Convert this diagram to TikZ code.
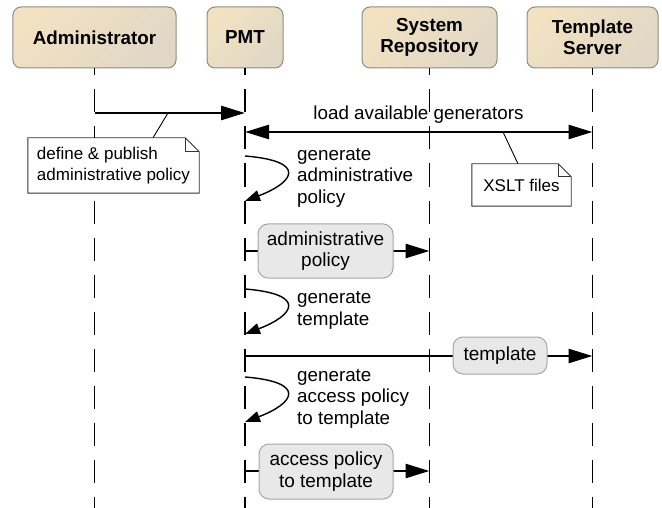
\documentclass[tikz,border=0pt]{standalone}
\usepackage{fontspec}
\setmainfont{Liberation Sans}
\usetikzlibrary{arrows.meta}

\definecolor{hdrtop}{HTML}{F2E2C2}
\definecolor{hdrbot}{HTML}{E0D7C6}
\definecolor{hdrline}{HTML}{8F8B82}
\definecolor{boxfill}{HTML}{E8E8E8}
\definecolor{boxline}{HTML}{A6A6A6}
\definecolor{noteline}{HTML}{333333}

\begin{document}
\begin{tikzpicture}[x=1bp,y=-1bp,
  actor/.style={draw=hdrline, line width=1bp, rounded corners=8bp,
    top color=hdrtop, bottom color=hdrbot, shading angle=45,
    minimum height=61bp, inner sep=0pt, align=center,
    font=\fontsize{18.8bp}{21.5bp}\selectfont\bfseries},
  lifeline/.style={line width=1.6bp, dash pattern=on 23bp off 14bp, dash phase=16bp},
  msg/.style={line width=2.6bp, -{Triangle[length=24bp,width=14bp]}},
  dblmsg/.style={line width=2.6bp, {Triangle[length=24bp,width=14bp]}-{Triangle[length=24bp,width=14bp]}},
  selfmsg/.style={line width=1.4bp, -{Triangle[length=15bp,width=11bp]}},
  lbl/.style={inner sep=0pt, align=left, font=\fontsize{18.8bp}{21.5bp}\selectfont},
  mbox/.style={draw=boxline, fill=boxfill, line width=1bp, rounded corners=10bp,
    inner sep=0pt, align=center, font=\fontsize{19bp}{21.5bp}\selectfont},
  notebox/.style={fill=white, inner sep=0pt, align=left,
    font=\fontsize{17bp}{20.5bp}\selectfont},
  noteedge/.style={draw=noteline, line width=0.9bp},
  notelink/.style={draw=black, line width=0.9bp}
]
\useasboundingbox (0,0) rectangle (662,508);

% participants
\node[actor, minimum width=163bp] (adm) at (94.5,37.5) {Administrator};
\node[actor, minimum width=76bp]  (pmt) at (245,37.5)  {PMT};
\node[actor, minimum width=135bp] (rep) at (429.5,37.5) {System\\Repository};
\node[actor, minimum width=131bp] (tsv) at (592.5,37.5) {Template\\Server};

% lifelines
\coordinate (bottom) at (0,508);
\draw[lifeline] (adm.south) -- (adm.south |- bottom);
\draw[lifeline] (pmt.south) -- (pmt.south |- bottom);
\draw[lifeline] (rep.south) -- (rep.south |- bottom);
\draw[lifeline] (tsv.south) -- (tsv.south |- bottom);

% message end points on the lifelines
\coordinate (m1a) at (adm.south |- 0,113);
\coordinate (m1b) at (pmt.south |- 0,113);
\coordinate (m2a) at (pmt.south |- 0,132);
\coordinate (m2b) at (tsv.south |- 0,132);
\coordinate (s1a) at (pmt.south |- 0,156);
\coordinate (s1b) at (pmt.south |- 0,201);
\coordinate (m3a) at (pmt.south |- 0,251);
\coordinate (m3b) at (rep.south |- 0,251);
\coordinate (s2a) at (pmt.south |- 0,289);
\coordinate (s2b) at (pmt.south |- 0,334);
\coordinate (m4a) at (pmt.south |- 0,356);
\coordinate (m4b) at (tsv.south |- 0,356);
\coordinate (s3a) at (pmt.south |- 0,377);
\coordinate (s3b) at (pmt.south |- 0,422);
\coordinate (m5a) at (pmt.south |- 0,471);
\coordinate (m5b) at (rep.south |- 0,471);

% define & publish
\draw[msg] (m1a) -- (m1b);
\coordinate (k1) at (168,113);
\node[notebox, minimum width=171bp, minimum height=55bp] (n1) at (113.5,165.5)
  {define \& publish\\administrative policy};
\draw[notelink] (k1) -- (n1.north -| 153,0);
\draw[noteedge] (n1.south west) -- (n1.north west) -- ([xshift=-14bp]n1.north east)
  -- ([yshift=-14bp]n1.north east) -- (n1.south east) -- cycle;
\draw[noteedge] ([xshift=-14bp]n1.north east) |- ([yshift=-14bp]n1.north east);

% load available generators
\draw[dblmsg] (m2a) -- (m2b);
\node[lbl] (t2) at (418.5,115) {load available generators};
\coordinate (k2) at (503,132);
\node[notebox, minimum width=99bp, minimum height=42bp] (n2) at (521.5,185) {XSLT files};
\draw[notelink] (k2) -- (n2.north -| 518,0);
\draw[noteedge] (n2.south west) -- (n2.north west) -- ([xshift=-13bp]n2.north east)
  -- ([yshift=-13bp]n2.north east) -- (n2.south east) -- cycle;
\draw[noteedge] ([xshift=-13bp]n2.north east) |- ([yshift=-13bp]n2.north east);

% generate administrative policy
\draw[selfmsg] (s1a) .. controls +(62,5) and +(50,-19) .. (s1b);
\node[lbl, anchor=west] (t3) at (297,177.5) {generate\\administrative\\policy};

% administrative policy to repository
\draw[msg] (m3a) -- (m3b);
\node[mbox, minimum width=135bp, minimum height=54bp] (b1) at (325.5,251)
  {administrative\\policy};

% generate template
\draw[selfmsg] (s2a) .. controls +(62,5) and +(50,-19) .. (s2b);
\node[lbl, anchor=west] (t4) at (297,310.5) {generate\\template};

% template to template server
\draw[msg] (m4a) -- (m4b);
\node[mbox, minimum width=94bp, minimum height=37bp] (b2) at (500,355.5) {template};

% generate access policy
\draw[selfmsg] (s3a) .. controls +(62,5) and +(50,-19) .. (s3b);
\node[lbl, anchor=west] (t5) at (297,398.5) {generate\\access policy\\to template};

% access policy to repository
\draw[msg] (m5a) -- (m5b);
\node[mbox, minimum width=134bp, minimum height=55bp] (b3) at (326,471.5)
  {access policy\\to template};
\end{tikzpicture}
\end{document}
